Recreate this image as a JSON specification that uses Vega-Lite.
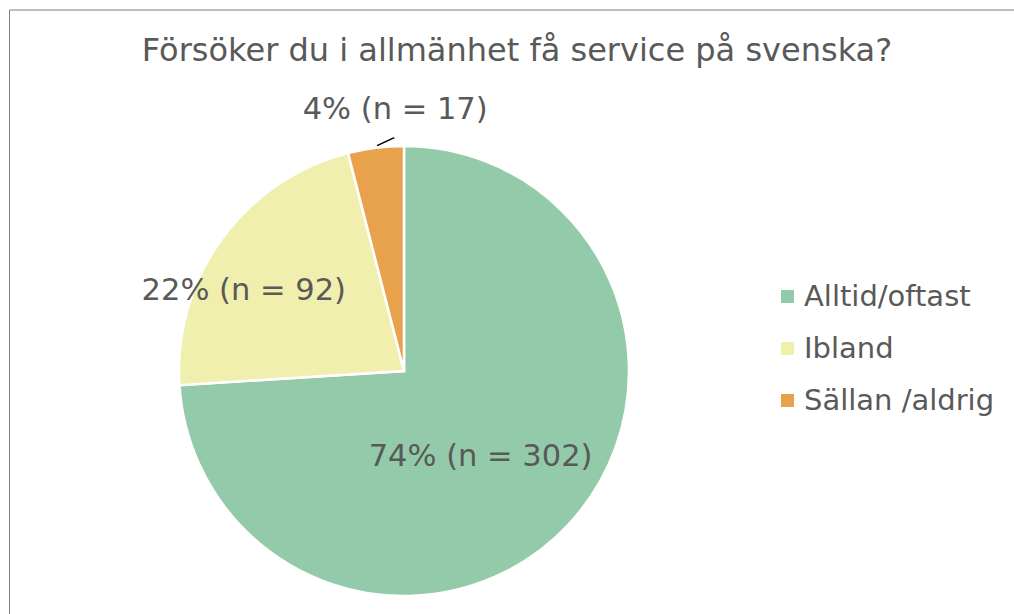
{
  "$schema": "https://vega.github.io/schema/vega-lite/v6.json",
  "width": 450,
  "height": 450,
  "autosize": {"type": "none"},
  "padding": {"left": 179, "top": 146, "right": 385, "bottom": 18},
  "background": "white",
  "title": {
    "text": "Försöker du i allmänhet få service på svenska?",
    "font": "DejaVu Sans",
    "fontSize": 32,
    "fontWeight": "normal",
    "color": "#595959",
    "anchor": "middle",
    "frame": "group",
    "dx": 113,
    "offset": -59
  },
  "data": {
    "values": [
      {"kategori": "Alltid/oftast", "andel": 74, "n": 302, "etikett": "74% (n = 302)", "ordning": 1},
      {"kategori": "Ibland", "andel": 22, "n": 92, "etikett": "22% (n = 92)", "ordning": 2},
      {"kategori": "Sällan /aldrig", "andel": 4, "n": 17, "etikett": "4% (n = 17)", "ordning": 3}
    ]
  },
  "encoding": {
    "theta": {"field": "andel", "type": "quantitative", "stack": true},
    "order": {"field": "ordning", "type": "quantitative"}
  },
  "layer": [
    {
      "mark": {"type": "arc", "stroke": "white", "strokeWidth": 2.5},
      "encoding": {
        "color": {
          "field": "kategori",
          "type": "nominal",
          "scale": {
            "domain": ["Alltid/oftast", "Ibland", "Sällan /aldrig"],
            "range": ["#93CBAA", "#F0EFAD", "#E8A24C"]
          },
          "legend": {
            "orient": "none",
            "legendX": 594,
            "legendY": 136,
            "title": null,
            "symbolType": "square",
            "symbolSize": 169,
            "symbolStrokeWidth": 0,
            "labelFont": "DejaVu Sans",
            "labelFontSize": 29,
            "labelColor": "#595959",
            "labelOffset": 2,
            "labelLimit": 0,
            "rowPadding": 22,
            "padding": 0
          }
        }
      }
    },
    {
      "mark": {"type": "text", "font": "DejaVu Sans", "fontSize": 30.5, "color": "#595959", "radius": 116, "dx": -8, "dy": 7, "align": "center", "baseline": "middle"},
      "encoding": {
        "text": {"condition": {"test": "datum.kategori === 'Alltid/oftast'", "field": "etikett"}, "value": ""}
      }
    },
    {
      "mark": {"type": "text", "font": "DejaVu Sans", "fontSize": 30.5, "color": "#595959", "radius": 177, "dx": -17, "dy": 24, "align": "center", "baseline": "middle"},
      "encoding": {
        "text": {"condition": {"test": "datum.kategori === 'Ibland'", "field": "etikett"}, "value": ""}
      }
    },
    {
      "mark": {"type": "text", "font": "DejaVu Sans", "fontSize": 30.5, "color": "#595959", "radius": 262, "dx": 24, "dy": -1, "align": "center", "baseline": "middle"},
      "encoding": {
        "text": {"condition": {"test": "datum.kategori === 'Sällan /aldrig'", "field": "etikett"}, "value": ""}
      }
    },
    {
      "mark": {"type": "text", "font": "DejaVu Sans", "fontSize": 21, "color": "black", "radius": 230, "dx": 10, "dy": 3, "angle": 335, "align": "center", "baseline": "middle"},
      "encoding": {
        "text": {"condition": {"test": "datum.kategori === 'Sällan /aldrig'", "value": "—"}, "value": ""}
      }
    },
    {
      "mark": {"type": "text", "text": ""},
      "encoding": {
        "size": {
          "field": "n",
          "type": "quantitative",
          "legend": {
            "orient": "none",
            "legendX": -170,
            "legendY": -136.5,
            "title": null,
            "padding": 700,
            "strokeColor": "#7f7f7f",
            "labelExpr": "''",
            "symbolOpacity": 0,
            "encode": {"legend": {"enter": {"strokeWidth": {"value": 2}}, "update": {"strokeWidth": {"value": 2}}}}
          }
        }
      }
    }
  ],
  "config": {"view": {"stroke": null}}
}
